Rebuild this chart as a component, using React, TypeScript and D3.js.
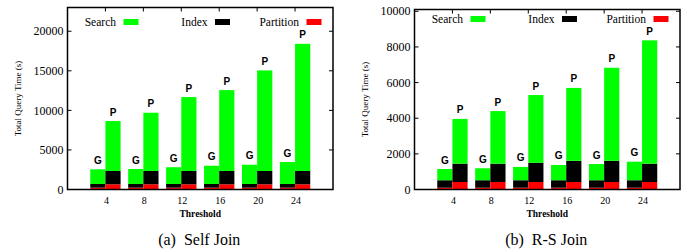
import React from 'react';
import * as d3 from 'd3';

const thresholds = ['4', '8', '12', '16', '20', '24'];
const legendNames = ['Search', 'Index', 'Partition'];
const stackKeys = ['partition', 'index', 'search'];
const colors = { search: '#00ff00', index: '#000000', partition: '#ff0000' };

// (a) self join, seconds
const selfGPartition = [230, 230, 230, 230, 230, 230];
const selfGIndex = [470, 470, 470, 470, 470, 470];
const selfGSearch = [1850, 1890, 2115, 2305, 2430, 2770];
const selfPPartition = [660, 660, 660, 660, 660, 660];
const selfPIndex = [1680, 1680, 1680, 1680, 1680, 1680];
const selfPSearch = [6310, 7360, 9340, 10220, 12710, 16070];
const selfTicks = [0, 5000, 10000, 15000, 20000];

// (b) R-S join, seconds
const rsGPartition = [100, 100, 100, 100, 100, 100];
const rsGIndex = [420, 420, 420, 420, 420, 420];
const rsGSearch = [630, 670, 745, 855, 910, 1040];
const rsPPartition = [420, 420, 420, 420, 420, 420];
const rsPIndex = [1030, 1030, 1080, 1190, 1190, 1030];
const rsPSearch = [2510, 2950, 3800, 4090, 5220, 6920];
const rsTicks = [0, 2000, 4000, 6000, 8000, 10000];

const serif = 'Liberation Serif, serif';
const sans = 'Liberation Sans, sans-serif';

function rows(part, idx, search) {
  return thresholds.map((t, i) => ({
    t,
    i,
    partition: part[i],
    index: idx[i],
    search: search[i],
  }));
}

function Panel({ left, right, top, bottom, yMax, ticks, g, p, caption, legendY }) {
  const x = d3.scaleLinear().domain([-1, 6]).range([left, right]);
  const y = d3.scaleLinear().domain([0, yMax]).range([bottom, top]);
  const stack = d3.stack().keys(stackKeys);
  const barW = 0.4;
  const groups = [
    { label: 'G', off: -barW, layers: stack(g), data: g },
    { label: 'P', off: 0, layers: stack(p), data: p },
  ];
  const legendX = [56, 147.5, 239];
  const legendKeys = ['search', 'index', 'partition'];
  const midX = (left + right) / 2;

  return (
    <g>
      {groups.map((grp) =>
        grp.layers.map((layer) =>
          layer.map((d, i) => (
            <rect
              key={grp.label + layer.key + i}
              x={x(i + grp.off)}
              width={x(barW) - x(0)}
              y={y(d[1])}
              height={y(d[0]) - y(d[1])}
              fill={colors[layer.key]}
            />
          ))
        )
      )}
      {groups.map((grp) =>
        grp.data.map((d, i) => (
          <text
            key={'lab' + grp.label + i}
            x={x(i + grp.off + barW / 2)}
            y={y(d.partition + d.index + d.search) - 5.5}
            textAnchor="middle"
            fontFamily={sans}
            fontWeight="bold"
            fontSize={10}
          >
            {grp.label}
          </text>
        ))
      )}
      {/* frame */}
      <rect x={left} y={top} width={right - left} height={bottom - top} fill="none" stroke="#000" strokeWidth={1.5} />
      {ticks.map((t) => (
        <g key={'yt' + t}>
          <line x1={left} x2={left + 4} y1={y(t)} y2={y(t)} stroke="#000" />
          <line x1={right} x2={right - 4} y1={y(t)} y2={y(t)} stroke="#000" />
          <text x={left - 4} y={y(t)} dy="0.35em" textAnchor="end" fontFamily={serif} fontSize={12}>
            {t}
          </text>
        </g>
      ))}
      {thresholds.map((t, i) => (
        <g key={'xt' + t}>
          <line x1={x(i)} x2={x(i)} y1={top} y2={top + 4} stroke="#000" />
          <text x={x(i) + 1} y={203.5} textAnchor="middle" fontFamily={serif} fontSize={10}>
            {t}
          </text>
        </g>
      ))}
      {legendKeys.map((k, i) => (
        <g key={'lg' + k}>
          <rect x={left + legendX[i]} y={legendY - 6.5} width={15} height={6} fill={colors[k]} />
          <text x={left + legendX[i] - 7.5} y={legendY} textAnchor="end" fontFamily={serif} fontSize={11.5}>
            {legendNames[i]}
          </text>
        </g>
      ))}
      <text
        transform={`translate(${left - 50},${(top + bottom) / 2}) rotate(-90)`}
        textAnchor="middle"
        dy="0.35em"
        fontFamily={serif}
        fontSize={9}
      >
        Total Query Time (s)
      </text>
      <text x={midX} y={216.5} textAnchor="middle" fontFamily={serif} fontSize={9.5} fontWeight="bold">
        Threshold
      </text>
      <text x={midX - 1} y={245} textAnchor="middle" fontFamily={serif} fontSize={16} style={{ whiteSpace: 'pre' }}>
        {caption}
      </text>
    </g>
  );
}

export default function App() {
  return (
    <svg
      width={691}
      height={252}
      style={{ position: 'absolute', left: 0, top: 0, background: '#fff' }}
    >
      <Panel
        left={67.5}
        right={333}
        top={7.5}
        bottom={189.5}
        yMax={23000}
        ticks={selfTicks}
        g={rows(selfGPartition, selfGIndex, selfGSearch)}
        p={rows(selfPPartition, selfPIndex, selfPSearch)}
        caption="(a)  Self Join"
        legendY={25.5}
      />
      <Panel
        left={414.5}
        right={680}
        top={9.5}
        bottom={189.5}
        yMax={10100}
        ticks={rsTicks}
        g={rows(rsGPartition, rsGIndex, rsGSearch)}
        p={rows(rsPPartition, rsPIndex, rsPSearch)}
        caption="(b)  R-S Join"
        legendY={22.5}
      />
    </svg>
  );
}
